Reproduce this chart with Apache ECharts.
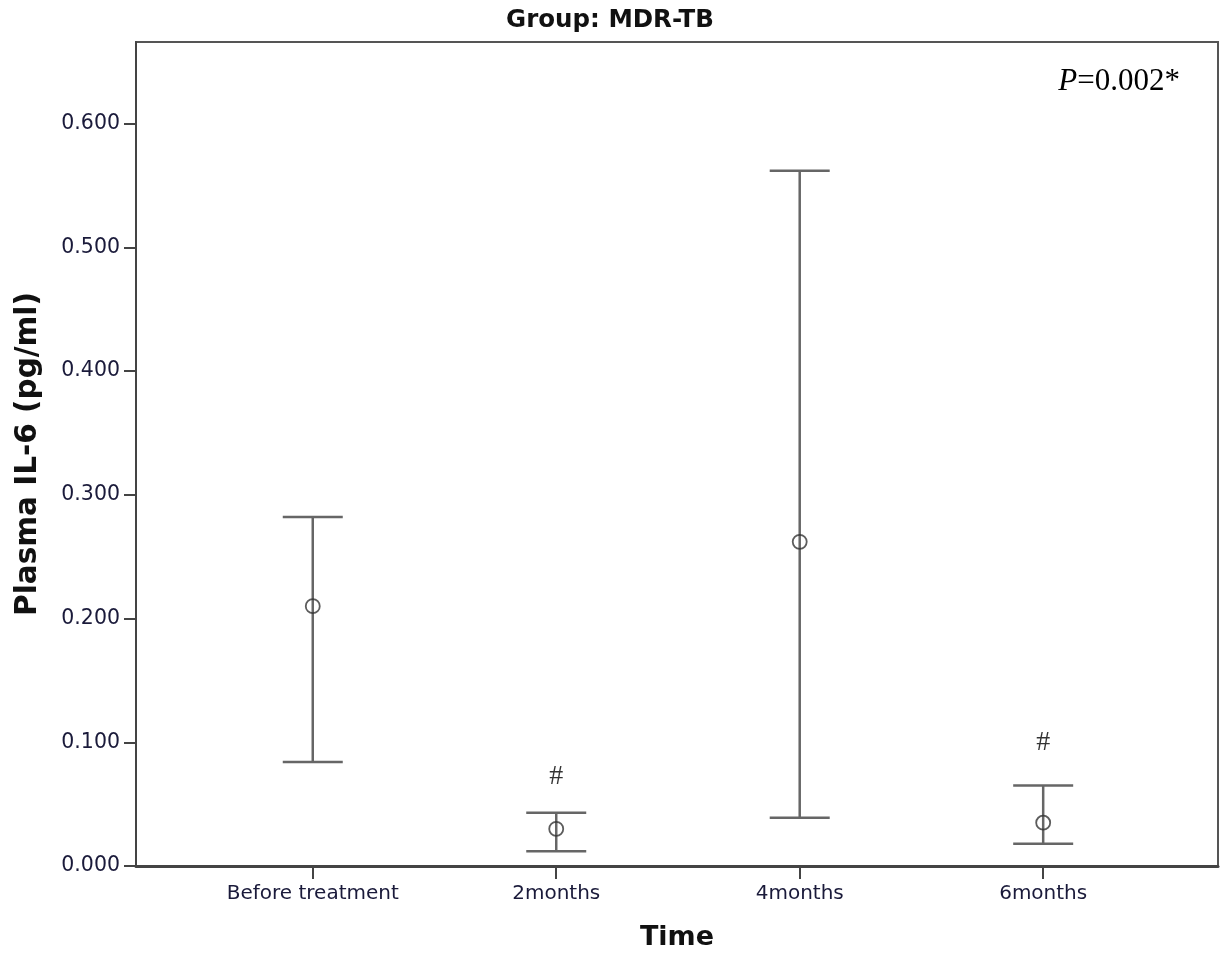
<!DOCTYPE html>
<html>
<head>
<meta charset="utf-8">
<script src="https://cdn.jsdelivr.net/npm/echarts@6/dist/echarts.min.js"></script>
<style>
  html, body { margin: 0; padding: 0; background: #fff; }
  #main { width: 1220px; height: 956px; }
</style>
</head>
<body>
<div id="main"></div>
<script>
// values
const categories = ['Before treatment', '2months', '4months', '6months'];
const means = [0.210, 0.030, 0.262, 0.035];
const upper = [0.282, 0.043, 0.562, 0.065];
const lower = [0.084, 0.012, 0.039, 0.018];
const sigMarks = ['', '#', '', '#'];
const sigLevel = [null, 0.072, null, 0.100];
const yTicks = [0, 0.1, 0.2, 0.3, 0.4, 0.5, 0.6];
const xTicks = [1, 2, 3, 4];

let myChart = echarts.init(document.getElementById('main'));

const barData = categories.map((c, i) => [i + 1, lower[i], upper[i]]);
const meanData = categories.map((c, i) => [i + 1, means[i]]);
const sigData = categories
    .map((c, i) => ({ value: [i + 1, sigLevel[i]], mark: sigMarks[i] }))
    .filter(d => d.mark);

let option = {
    animation: false,
    title: {
        text: 'Group: MDR-TB',
        left: 'center',
        top: 3,
        textStyle: { fontFamily: 'DejaVu Sans', fontWeight: 'bold', fontSize: 24.5, color: '#111' }
    },
    grid: {
        left: 136, right: 2, top: 42, bottom: 90,
        show: true, borderColor: '#555', borderWidth: 2, backgroundColor: '#fff'
    },
    graphic: [{
        type: 'text',
        right: 40,
        top: 66,
        style: {
            rich: {
                i: { fontFamily: 'Liberation Serif', fontStyle: 'italic', fontSize: 31, fill: '#000' },
                n: { fontFamily: 'Liberation Serif', fontSize: 31, fill: '#000' }
            },
            text: '{i|P}{n|=0.002*}'
        }
    }],
    xAxis: {
        type: 'value',
        min: 0.274,
        max: 4.718,
        name: 'Time',
        nameLocation: 'middle',
        nameGap: 58,
        nameTextStyle: { fontFamily: 'DejaVu Sans', fontWeight: 'bold', fontSize: 27, color: '#111' },
        splitLine: { show: false },
        axisLine: { lineStyle: { color: '#444', width: 3 } },
        axisTick: { show: true, customValues: xTicks, length: 13, lineStyle: { color: '#444', width: 2 } },
        axisLabel: {
            customValues: xTicks,
            formatter: v => categories[Math.round(v) - 1] || '',
            margin: 18,
            fontFamily: 'DejaVu Sans', fontSize: 20, color: '#1a1a3a'
        }
    },
    yAxis: {
        type: 'value',
        min: 0,
        max: 0.666,
        name: 'Plasma IL-6 (pg/ml)',
        nameLocation: 'middle',
        nameGap: 93,
        nameTextStyle: { fontFamily: 'DejaVu Sans', fontWeight: 'bold', fontSize: 29.5, color: '#111' },
        splitLine: { show: false },
        axisLine: { show: true, lineStyle: { color: '#444', width: 2 } },
        axisTick: { show: true, customValues: yTicks, length: 12, lineStyle: { color: '#444', width: 2 } },
        axisLabel: {
            customValues: yTicks,
            formatter: v => v.toFixed(3),
            margin: 16,
            fontFamily: 'DejaVu Sans', fontSize: 20.5, color: '#1a1a3a'
        }
    },
    series: [
        {
            type: 'custom',
            data: barData,
            renderItem: function (params, api) {
                const x = api.value(0);
                const lo = api.coord([x, api.value(1)]);
                const hi = api.coord([x, api.value(2)]);
                const half = 30;
                const style = { stroke: '#666', lineWidth: 2.5 };
                return {
                    type: 'group',
                    children: [
                        { type: 'line', shape: { x1: hi[0], y1: hi[1], x2: lo[0], y2: lo[1] }, style: style },
                        { type: 'line', shape: { x1: hi[0] - half, y1: hi[1], x2: hi[0] + half, y2: hi[1] }, style: style },
                        { type: 'line', shape: { x1: lo[0] - half, y1: lo[1], x2: lo[0] + half, y2: lo[1] }, style: style }
                    ]
                };
            }
        },
        {
            type: 'scatter',
            data: meanData,
            symbol: 'circle',
            symbolSize: 14,
            itemStyle: { color: 'rgba(0,0,0,0)', borderColor: '#333', borderWidth: 1.8 },
            z: 5
        },
        {
            type: 'scatter',
            data: sigData,
            symbolSize: 0,
            label: {
                show: true,
                position: 'inside',
                formatter: p => p.data.mark,
                fontFamily: 'Liberation Serif',
                fontSize: 28,
                color: '#000'
            }
        }
    ]
};
myChart.setOption(option);
</script>
</body>
</html>
